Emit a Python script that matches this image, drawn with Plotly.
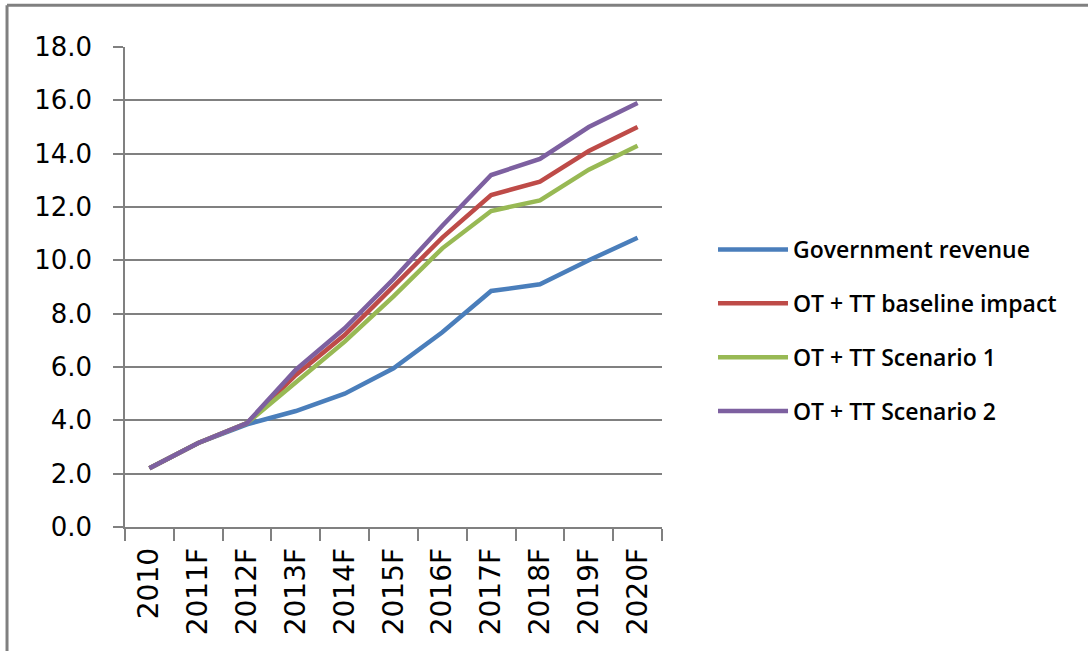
import plotly.graph_objects as go

categories = ["2010", "2011F", "2012F", "2013F", "2014F", "2015F",
              "2016F", "2017F", "2018F", "2019F", "2020F"]
gov_revenue = [2.2, 3.15, 3.85, 4.35, 5.0, 5.95, 7.3, 8.85, 9.1, 10.0, 10.85]
baseline = [2.2, 3.15, 3.9, 5.7, 7.2, 9.0, 10.85, 12.45, 12.95, 14.1, 15.0]
scenario1 = [2.2, 3.15, 3.9, 5.4, 6.95, 8.65, 10.45, 11.85, 12.25, 13.4, 14.3]
scenario2 = [2.2, 3.15, 3.9, 5.9, 7.45, 9.3, 11.3, 13.2, 13.8, 15.0, 15.9]

series_names = ["Government revenue", "OT + TT baseline impact",
                "OT + TT Scenario 1", "OT + TT Scenario 2"]
series_values = [gov_revenue, baseline, scenario1, scenario2]
colors = ["#4A7EBB", "#BE4B48", "#98B954", "#7D60A0"]
y_ticks = [0, 2, 4, 6, 8, 10, 12, 14, 16, 18]

fig = go.Figure()
for i, (name, vals, col) in enumerate(zip(series_names, series_values, colors)):
    fig.add_trace(go.Scatter(
        x=categories, y=vals, name=name, mode="lines",
        line=dict(color=col, width=4.5),
        legendgroup=f"g{i}",
    ))

fig.update_layout(
    width=1088, height=651,
    margin=dict(l=125, r=426, t=47, b=124),
    paper_bgcolor="white", plot_bgcolor="white",
    showlegend=True,
    legend=dict(
        x=1.095, y=0.623, xanchor="left", yanchor="top",
        font=dict(family="Open Sans", size=23, color="black", weight=600),
        itemwidth=70, tracegroupgap=21,
        bgcolor="rgba(0,0,0,0)",
    ),
    xaxis=dict(
        type="category",
        range=[-0.5, len(categories) - 0.5],
        tickangle=-90,
        tickfont=dict(family="DejaVu Sans", size=28, color="black"),
        showgrid=False,
        showline=True, linecolor="#808080", linewidth=1.5,
        ticks="outside", ticklen=12, tickcolor="#808080", tickwidth=1.5,
        tickson="boundaries",
        ticklabelstandoff=8,
        zeroline=False,
    ),
    yaxis=dict(
        range=[0, 18],
        tickvals=y_ticks,
        ticktext=[f"{v:.1f}" for v in y_ticks],
        tickfont=dict(family="DejaVu Sans", size=26, color="black"),
        showgrid=True, gridcolor="#808080", gridwidth=1.5,
        showline=True, linecolor="#808080", linewidth=1.5,
        ticks="outside", ticklen=10, tickcolor="#808080", tickwidth=1.5,
        ticklabelstandoff=16,
        zeroline=False,
    ),
)

# outer frame of the chart picture
frame = dict(type="line", xref="paper", yref="paper",
             line=dict(color="#808080", width=3))
fig.add_shape(**frame, x0=-0.2197, x1=1.80, y0=1.087, y1=1.087)
fig.add_shape(**frame, x0=-0.2197, x1=-0.2197, y0=1.087, y1=-0.30)

fig.write_html("out.html")
